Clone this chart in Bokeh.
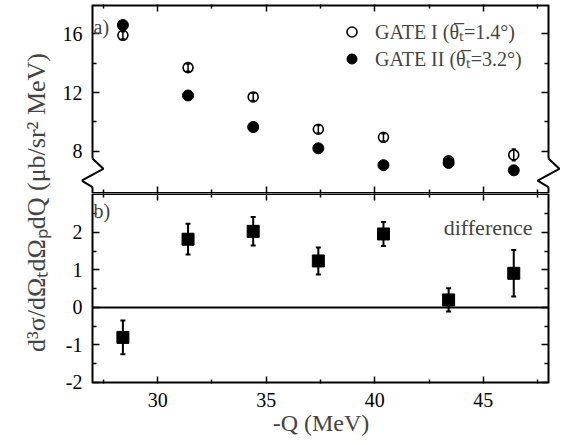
from bokeh.plotting import figure
from bokeh.models import (Range1d, LinearAxis, FixedTicker, ColumnDataSource, Whisker,
                          TeeHead, Label, Legend, LegendItem, CustomJSTickFormatter)
from bokeh.layouts import row, column
from bokeh.embed import file_html
from bokeh.resources import INLINE

# -Q values (MeV) of the bins
q_mev = [28.4, 31.4, 34.4, 37.4, 40.4, 43.4, 46.4]

# triple differential cross sections for the two gates (ub/sr^2 MeV)
gate1 = [15.9, 13.7, 11.7, 9.5, 8.95, 7.35, 7.75]
gate1_err = [0.25, 0.25, 0.25, 0.25, 0.25, 0.25, 0.4]
gate2 = [16.6, 11.8, 9.65, 8.2, 7.05, 7.2, 6.7]
gate2_err = [0.2, 0.2, 0.2, 0.2, 0.2, 0.2, 0.2]

# difference GATE I - GATE II
diff = [-0.8, 1.82, 2.03, 1.24, 1.96, 0.2, 0.91]
diff_err = [0.45, 0.41, 0.38, 0.36, 0.32, 0.31, 0.62]

x_ticks = [30, 35, 40, 45]
x_minor = [27.5, 32.5, 37.5, 42.5, 47.5]
top_ticks = [8, 12, 16]
top_minor = [10, 14]
bot_ticks = [-2, -1, 0, 1, 2]
bot_minor = [-1.5, -0.5, 0.5, 1.5, 2.5]

legend_labels = ["GATE I (\u03b8\u0305\u209c=1.4\u00b0)", "GATE II (\u03b8\u0305\u209c=3.2\u00b0)"]
y_title = "d\u00b3\u03c3/d\u03a9\u209cd\u03a9\u209adQ (\u03bcb/sr\u00b2 MeV)"
x_title = "-Q (MeV)"

FONT = "Liberation Serif"

# panel limits (the drawn box) and the slightly wider frame that leaves
# room for the axis-break marks on both sides
X_LO, X_HI = 27.0, 48.0
PAD_L, PAD_R = 11, 12            # px of frame outside the box
LAB_W = 54
FIG_W = 565 - LAB_W
BORDER_L, BORDER_R = 27, 5
FRAME_W = FIG_W - BORDER_L - BORDER_R
box_w = FRAME_W - PAD_L - PAD_R
ppu = box_w / (X_HI - X_LO)
xr = Range1d(X_LO - PAD_L / ppu, X_HI + PAD_R / ppu)

TOP_LO, TOP_HI = 5.12, 18.0
BOT_LO, BOT_HI = -2.03, 3.04


def make_axis(ticks, minor, side, labels=True):
    ax = LinearAxis(ticker=FixedTicker(ticks=ticks, minor_ticks=minor))
    ax.axis_line_color = None
    # ticks start on the box edge, which sits PAD px inside the frame on the sides
    shift = {"left": PAD_L, "right": PAD_R}.get(side, 0)
    ax.major_tick_out = -shift
    ax.major_tick_in = 7 + shift
    ax.minor_tick_out = -shift
    ax.minor_tick_in = 4 + shift
    ax.major_tick_line_width = 1.5
    ax.minor_tick_line_width = 1.5
    ax.major_label_text_font = FONT
    ax.major_label_text_font_size = "20px"
    ax.major_label_text_color = "black"
    ax.major_label_standoff = 5 + shift
    if side == "left":
        ax.major_label_standoff = shift - 1
    if not labels:
        ax.major_label_text_color = None
        ax.major_label_text_font_size = "0px"
        ax.major_label_standoff = 0
    return ax


def base_figure(height, yr, **borders):
    p = figure(width=FIG_W, height=height, x_range=xr, y_range=yr,
               x_axis_location=None, y_axis_location=None,
               output_backend="svg", toolbar_location=None,
               min_border_left=BORDER_L, min_border_right=BORDER_R, **borders)
    p.grid.grid_line_color = None
    p.outline_line_color = None
    p.background_fill_color = "white"
    p.border_fill_color = "white"
    return p


# ---- panel a): cross sections for both gates ----
top = base_figure(193, Range1d(TOP_LO, TOP_HI), min_border_top=4, min_border_bottom=0)
top.add_layout(make_axis(top_ticks, top_minor, "left"), "left")
top.add_layout(make_axis(top_ticks, top_minor, "right", labels=False), "right")
top.add_layout(make_axis(x_ticks, x_minor, "above", labels=False), "above")
top.add_layout(make_axis(x_ticks, x_minor, "below", labels=False), "below")

# box of panel a) with the axis-break zigzag on both vertical edges
brk_y = [7.5, 6.8, 6.0, 5.55]
dx = 0.5
edges = []
for xe in (X_LO, X_HI):
    zx = [xe, xe + dx, xe - dx, xe]
    edges.append(([xe, xe], [TOP_HI, brk_y[0]]))
    edges.append((zx, brk_y))
    edges.append(([xe, xe], [brk_y[3], TOP_LO]))
top.multi_line([e[0] for e in edges], [e[1] for e in edges],
               line_color="black", line_width=2)
top.segment(x0=[X_LO, X_LO], y0=[TOP_HI, TOP_LO], x1=[X_HI, X_HI], y1=[TOP_HI, TOP_LO],
            line_color="black", line_width=[4, 3])

src1 = ColumnDataSource(dict(x=q_mev, y=gate1,
                             lo=[v - e for v, e in zip(gate1, gate1_err)],
                             hi=[v + e for v, e in zip(gate1, gate1_err)]))
src2 = ColumnDataSource(dict(x=q_mev, y=gate2,
                             lo=[v - e for v, e in zip(gate2, gate2_err)],
                             hi=[v + e for v, e in zip(gate2, gate2_err)]))

r_open = top.scatter("x", "y", source=src1, marker="circle", size=10,
                     fill_color=None, line_color="black", line_width=1.6)
r_fill = top.scatter("x", "y", source=src2, marker="circle", size=11,
                     fill_color="black", line_color="black")
for s in (src1, src2):
    top.add_layout(Whisker(base="x", lower="lo", upper="hi", source=s,
                           line_color="black", line_width=1.5,
                           lower_head=TeeHead(size=4, line_width=1.5),
                           upper_head=TeeHead(size=4, line_width=1.5)))

legend = Legend(items=[LegendItem(label=legend_labels[0], renderers=[r_open]),
                       LegendItem(label=legend_labels[1], renderers=[r_fill])],
                location=(PAD_L + 247, 121), orientation="vertical",
                label_text_font=FONT, label_text_font_size="20px",
                glyph_width=25, glyph_height=25, label_height=25,
                label_standoff=11, spacing=0, padding=3, margin=0,
                background_fill_alpha=0, border_line_color=None)
top.add_layout(legend)

top.add_layout(Label(x=PAD_L + 1, y=167, x_units="screen", y_units="screen", text="a)",
                     text_font=FONT, text_font_size="20px", text_baseline="middle"))

# ---- panel b): difference ----
bot = base_figure(252, Range1d(BOT_LO, BOT_HI), min_border_top=0, min_border_bottom=62)
yax = make_axis(bot_ticks, bot_minor, "left")
yax.formatter = CustomJSTickFormatter(code="return String(tick)")
bot.add_layout(yax, "left")
bot.add_layout(make_axis(bot_ticks, bot_minor, "right", labels=False), "right")
bot.add_layout(make_axis(x_ticks, x_minor, "above", labels=False), "above")
xax = make_axis(x_ticks, x_minor, "below")
xax.major_label_standoff = 9
xax.axis_label = x_title
xax.axis_label_text_font = FONT
xax.axis_label_text_font_size = "24px"
xax.axis_label_text_font_style = "normal"
xax.axis_label_standoff = 0
bot.add_layout(xax, "below")

# box of panel b) and the zero line
bot.segment(x0=[X_LO, X_HI], y0=[BOT_LO, BOT_LO], x1=[X_LO, X_HI], y1=[BOT_HI, BOT_HI],
            line_color="black", line_width=2)
bot.segment(x0=[X_LO, X_LO, X_LO], y0=[BOT_HI, BOT_LO, 0],
            x1=[X_HI, X_HI, X_HI], y1=[BOT_HI, BOT_LO, 0],
            line_color="black", line_width=[3, 4, 2])

src3 = ColumnDataSource(dict(x=q_mev, y=diff,
                             lo=[v - e for v, e in zip(diff, diff_err)],
                             hi=[v + e for v, e in zip(diff, diff_err)]))
bot.add_layout(Whisker(base="x", lower="lo", upper="hi", source=src3,
                       line_color="black", line_width=2,
                       lower_head=TeeHead(size=5, line_width=2),
                       upper_head=TeeHead(size=5, line_width=2)))
bot.scatter("x", "y", source=src3, marker="square", size=12,
            fill_color="black", line_color="black")

bot.add_layout(Label(x=PAD_L + 1, y=173, x_units="screen", y_units="screen", text="b)",
                     text_font=FONT, text_font_size="20px", text_baseline="middle"))
bot.add_layout(Label(x=PAD_L + 440, y=156, x_units="screen", y_units="screen",
                     text="difference", text_font=FONT, text_font_size="22px",
                     text_align="right", text_baseline="alphabetic"))

# ---- shared y title ----
lab = figure(width=LAB_W, height=445, x_axis_location=None, y_axis_location=None,
             output_backend="svg", toolbar_location=None, min_border=0)
lab.outline_line_color = None
lab.grid.grid_line_color = None
lab.add_layout(Label(x=36, y=243, x_units="screen", y_units="screen", text=y_title,
                     angle=90, angle_units="deg", text_align="center",
                     text_baseline="middle", text_font=FONT, text_font_size="26px"))

layout = row(lab, column(top, bot, spacing=0), spacing=0)

with open("out.html", "w") as f:
    f.write(file_html(layout, INLINE))
